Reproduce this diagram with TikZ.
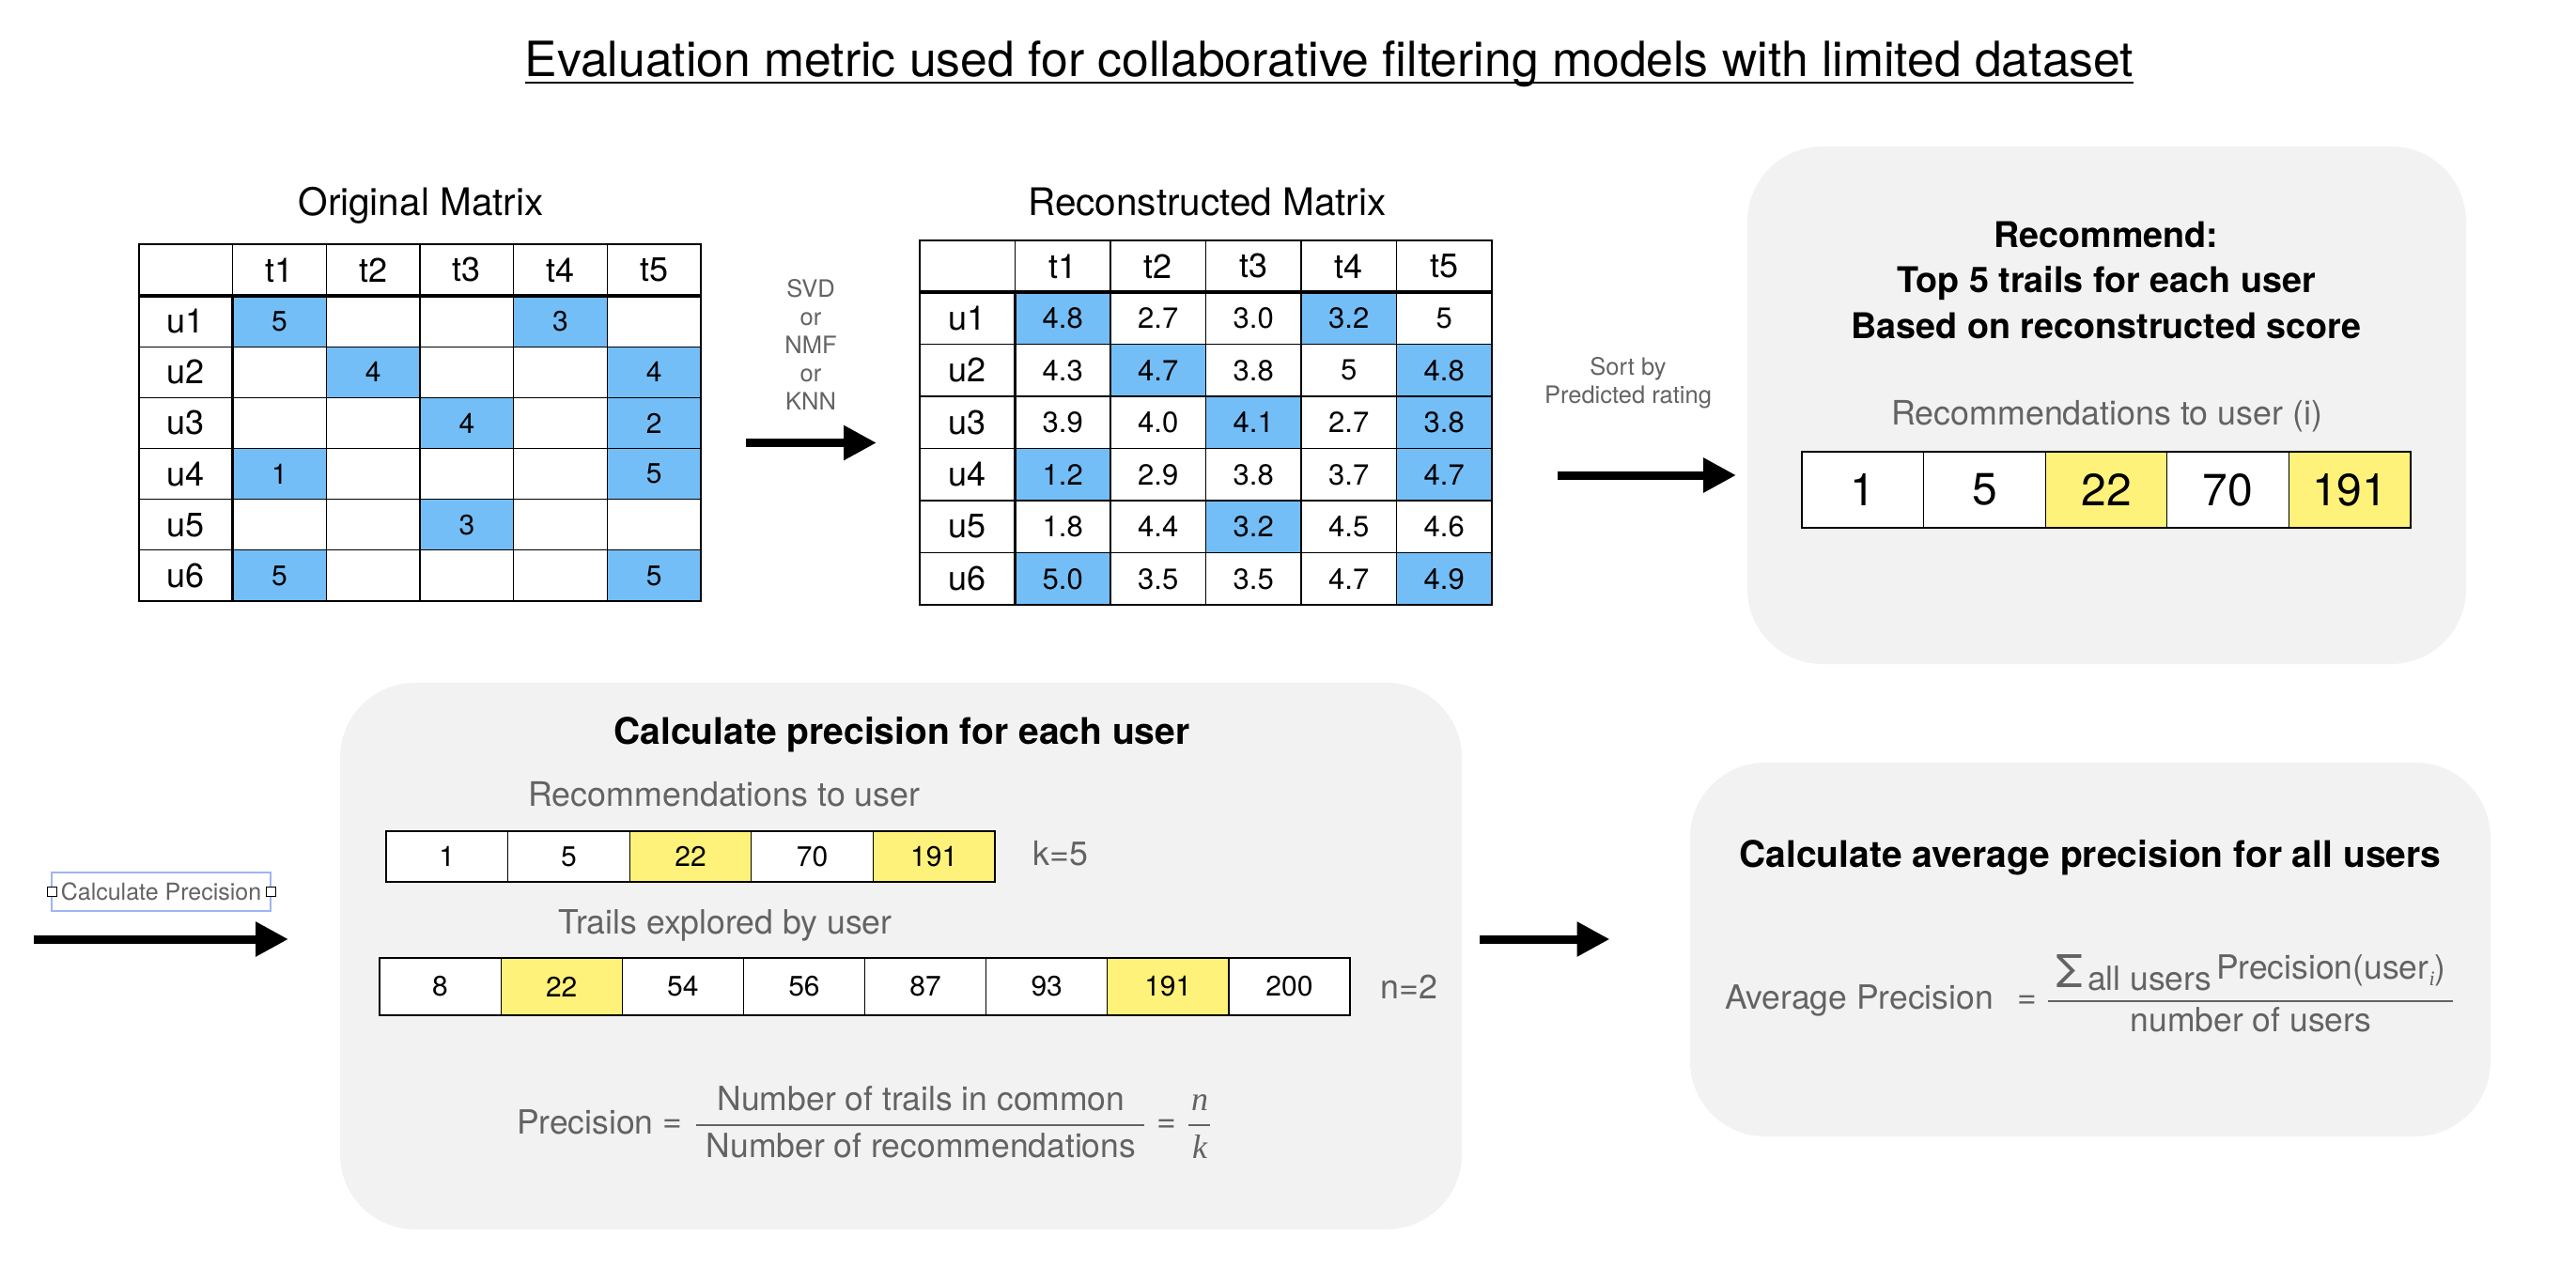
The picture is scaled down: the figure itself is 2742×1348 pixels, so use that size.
\documentclass[tikz,border=0pt]{standalone}
\usepackage{fontspec}
\setmainfont{TeX Gyre Heros}
\newfontfamily\serifit{Liberation Serif}
\usetikzlibrary{arrows.meta}
\definecolor{cblue}{RGB}{116,190,247}
\definecolor{cyel}{RGB}{254,242,122}
\definecolor{tgray}{RGB}{99,99,99}
\definecolor{pgray}{RGB}{242,242,242}
\definecolor{selblue}{RGB}{157,181,246}
\newcommand\fsz[2]{\fontsize{#1}{#2}\selectfont}
\begin{document}
\begin{tikzpicture}[x=1pt,y=-1pt,
  every node/.style={inner sep=0pt,outer sep=0pt},
  cellW/.style={draw=black,line width=1.2pt,fill=white},
  cellB/.style={draw=black,line width=1.2pt,fill=cblue},
  cellY/.style={draw=black,line width=1.2pt,fill=cyel},
  omat/.style={minimum width=99.67pt,minimum height=54.17pt,font=\fsz{30}{36}},
  ohead/.style={minimum width=99.67pt,minimum height=55pt,font=\fsz{36}{42}},
  olab/.style={minimum width=99.67pt,minimum height=54.17pt,font=\fsz{36}{42}},
  rmat/.style={minimum width=101.5pt,minimum height=55.5pt,font=\fsz{31}{36}},
  rhead/.style={minimum width=101.5pt,minimum height=55pt,font=\fsz{36}{42}},
  rlab/.style={minimum width=101.5pt,minimum height=55.5pt,font=\fsz{36}{42}},
  bigcell/.style={minimum width=129.6pt,minimum height=81pt,font=\fsz{48}{56}},
  smcell/.style={minimum width=129.6pt,minimum height=54pt,font=\fsz{30}{36}},
  trcell/.style={minimum width=129.1pt,minimum height=61pt,font=\fsz{30}{36}},
  panel/.style={fill=pgray,rounded corners=80pt},
  mtitle/.style={anchor=base,font=\fsz{40.5}{48}},
  btitle/.style={anchor=base,font=\bfseries\fsz{39}{46}},
  graytxt/.style={text=tgray,font=\fsz{35.8}{42}},
  smallgray/.style={anchor=base,text=tgray,font=\fsz{25.5}{30}},
  formula/.style={text=tgray,font=\fsz{35.5}{42}},
  fracbar/.style={draw=tgray,line width=2pt},
  fatarrow/.style={line width=9pt,-{Triangle[length=35pt,width=35pt]}},
  selbox/.style={draw=selblue,line width=1.4pt,minimum width=233pt,minimum height=41pt,text=tgray,font=\fsz{25}{30}},
  handle/.style={draw=black,line width=1pt,fill=white,minimum width=10pt,minimum height=10pt}
]
\useasboundingbox (0,0) rectangle (2742,1348);
\fill[white] (0,0) rectangle (2742,1348);

% ---------- title ----------
\node[anchor=base,font=\fsz{51.7}{60}] (title) at (1415,82) {Evaluation metric used for collaborative filtering models with limited dataset};
\draw[line width=2.7pt] ([yshift=-6pt]title.base west) -- ([yshift=-6pt]title.base east);

% ---------- panels ----------
\node[panel,minimum width=765pt,minimum height=551pt] (p1) at (2242.5,431.5) {};
\node[panel,minimum width=1194pt,minimum height=582pt] (p2) at (959,1018) {};
\node[panel,minimum width=852pt,minimum height=398pt] (p3) at (2225,1011) {};

% ---------- original matrix ----------
\node[mtitle] (otitle) at (448,230) {Original Matrix};
\node[cellW,ohead] (o0-0) at (197.8,287.5) {};
\foreach \c in {1,...,5} \node[cellW,ohead] (o0-\c) at ({148+99.67*(\c+0.5)},287.5) {t\c};
\foreach \r/\y in {1/342.1,2/396.3,3/450.4,4/504.6,5/558.8,6/612.9}
  \node[cellW,olab] (o\r-0) at (197.8,\y) {u\r};
\foreach \c/\v/\s in {1/5/cellB,2/{}/cellW,3/{}/cellW,4/3/cellB,5/{}/cellW}
  \node[\s,omat] (o1-\c) at ({148+99.67*(\c+0.5)},342.1) {\v};
\foreach \c/\v/\s in {1/{}/cellW,2/4/cellB,3/{}/cellW,4/{}/cellW,5/4/cellB}
  \node[\s,omat] (o2-\c) at ({148+99.67*(\c+0.5)},396.3) {\v};
\foreach \c/\v/\s in {1/{}/cellW,2/{}/cellW,3/4/cellB,4/{}/cellW,5/2/cellB}
  \node[\s,omat] (o3-\c) at ({148+99.67*(\c+0.5)},450.4) {\v};
\foreach \c/\v/\s in {1/1/cellB,2/{}/cellW,3/{}/cellW,4/{}/cellW,5/5/cellB}
  \node[\s,omat] (o4-\c) at ({148+99.67*(\c+0.5)},504.6) {\v};
\foreach \c/\v/\s in {1/{}/cellW,2/{}/cellW,3/3/cellB,4/{}/cellW,5/{}/cellW}
  \node[\s,omat] (o5-\c) at ({148+99.67*(\c+0.5)},558.8) {\v};
\foreach \c/\v/\s in {1/5/cellB,2/{}/cellW,3/{}/cellW,4/{}/cellW,5/5/cellB}
  \node[\s,omat] (o6-\c) at ({148+99.67*(\c+0.5)},612.9) {\v};
\draw[line width=3.5pt] (o0-0.south west) -- (o0-5.south east);
\draw[line width=3.5pt] (o1-0.north east) -- (o6-0.south east);

% ---------- reconstructed matrix ----------
\node[mtitle] (rtitle) at (1285,230) {Reconstructed Matrix};
\node[cellW,rhead] (m0-0) at (1029.75,283.5) {};
\foreach \c in {1,...,5} \node[cellW,rhead] (m0-\c) at ({979+101.5*(\c+0.5)},283.5) {t\c};
\foreach \r/\y in {1/338.75,2/394.25,3/449.75,4/505.25,5/560.75,6/616.25}
  \node[cellW,rlab] (m\r-0) at (1029.75,\y) {u\r};
\foreach \c/\v/\s in {1/4.8/cellB,2/2.7/cellW,3/3.0/cellW,4/3.2/cellB,5/5/cellW}
  \node[\s,rmat] (m1-\c) at ({979+101.5*(\c+0.5)},338.75) {\v};
\foreach \c/\v/\s in {1/4.3/cellW,2/4.7/cellB,3/3.8/cellW,4/5/cellW,5/4.8/cellB}
  \node[\s,rmat] (m2-\c) at ({979+101.5*(\c+0.5)},394.25) {\v};
\foreach \c/\v/\s in {1/3.9/cellW,2/4.0/cellW,3/4.1/cellB,4/2.7/cellW,5/3.8/cellB}
  \node[\s,rmat] (m3-\c) at ({979+101.5*(\c+0.5)},449.75) {\v};
\foreach \c/\v/\s in {1/1.2/cellB,2/2.9/cellW,3/3.8/cellW,4/3.7/cellW,5/4.7/cellB}
  \node[\s,rmat] (m4-\c) at ({979+101.5*(\c+0.5)},505.25) {\v};
\foreach \c/\v/\s in {1/1.8/cellW,2/4.4/cellW,3/3.2/cellB,4/4.5/cellW,5/4.6/cellW}
  \node[\s,rmat] (m5-\c) at ({979+101.5*(\c+0.5)},560.75) {\v};
\foreach \c/\v/\s in {1/5.0/cellB,2/3.5/cellW,3/3.5/cellW,4/4.7/cellW,5/4.9/cellB}
  \node[\s,rmat] (m6-\c) at ({979+101.5*(\c+0.5)},616.25) {\v};
\draw[line width=3.5pt] (m0-0.south west) -- (m0-5.south east);
\draw[line width=3.5pt] (m1-0.north east) -- (m6-0.south east);

% ---------- SVD arrow ----------
\node[smallgray] (svd1) at (863,316.7) {SVD};
\node[smallgray] (svd2) at (863,346.7) {or};
\node[smallgray] (svd3) at (863,376.7) {NMF};
\node[smallgray] (svd4) at (863,406.7) {or};
\node[smallgray] (svd5) at (863,436.7) {KNN};
\coordinate (a1s) at (794,471.5);
\coordinate (a1e) at (933,471.5);
\draw[fatarrow] (a1s) -- (a1e);

% ---------- sort arrow ----------
\node[smallgray] (sort1) at (1733,399.5) {Sort by};
\node[smallgray] (sort2) at (1733,429.3) {Predicted rating};
\coordinate (a2s) at (1658,506);
\coordinate (a2e) at (1848,506);
\draw[fatarrow] (a2s) -- (a2e);

% ---------- panel 1 ----------
\node[anchor=base,font=\bfseries\fsz{37.7}{46}] (rec1) at (2242,264) {Recommend:};
\node[anchor=base,font=\bfseries\fsz{37.7}{46}] (rec2) at (2242,312) {Top 5 trails for each user};
\node[anchor=base,font=\bfseries\fsz{37.7}{46}] (rec3) at (2242,360) {Based on reconstructed score};
\node[graytxt,anchor=base] (rtu) at (2242.7,452) {Recommendations to user (i)};
\foreach \i/\v/\s in {1/1/cellW,2/5/cellW,3/22/cellY,4/70/cellW,5/191/cellY}
  \node[\s,bigcell] (b\i) at ({1918+129.6*(\i-0.5)},521.5) {\v};

% ---------- calculate precision arrow ----------
\node[selbox] (cp) at (171.5,949.5) {Calculate Precision};
\node[handle] (cph1) at (cp.west) {};
\node[handle] (cph2) at (cp.east) {};
\coordinate (a3s) at (36,1000);
\coordinate (a3e) at (307,1000);
\draw[fatarrow] (a3s) -- (a3e);

% ---------- panel 2 ----------
\node[btitle] (p2t) at (960,792) {Calculate precision for each user};
\node[graytxt,anchor=base] (rtu2) at (771,858) {Recommendations to user};
\foreach \i/\v/\s in {1/1/cellW,2/5/cellW,3/22/cellY,4/70/cellW,5/191/cellY}
  \node[\s,smcell] (s\i) at ({411+129.6*(\i-0.5)},912) {\v};
\node[graytxt,anchor=base] (k5) at (1129,921.4) {k=5};
\node[graytxt,anchor=base,font=\fsz{35.6}{42}] (teu) at (772,994) {Trails explored by user};
\foreach \i/\v/\s in {1/8/cellW,2/22/cellY,3/54/cellW,4/56/cellW,5/87/cellW,6/93/cellW,7/191/cellY,8/200/cellW}
  \node[\s,trcell] (e\i) at ({404+129.125*(\i-0.5)},1050.5) {\v};
\node[graytxt,anchor=base] (n2) at (1500,1063.6) {n=2};

\node[formula,anchor=base west] (prec) at (550,1207) {Precision};
\node[formula] (eq1) at (716,1198.5) {=};
\coordinate (fb1l) at (741,1198);
\coordinate (fb1r) at (1218,1198);
\draw[fracbar] (fb1l) -- (fb1r);
\node[formula,anchor=base] (num1) at (980.5,1182) {Number of trails in common};
\node[formula,anchor=base] (den1) at (980.5,1232) {Number of recommendations};
\node[formula] (eq2) at (1242,1198.5) {=};
\coordinate (fb2l) at (1265,1198);
\coordinate (fb2r) at (1288,1198);
\draw[fracbar] (fb2l) -- (fb2r);
\node[formula,anchor=base,font=\serifit\itshape\fsz{36}{42}] (nn) at (1277,1182) {n};
\node[formula,anchor=base,font=\serifit\itshape\fsz{36}{42}] (kk) at (1277,1233) {k};

% ---------- arrow to panel 3 ----------
\coordinate (a4s) at (1575,1000);
\coordinate (a4e) at (1713.5,1000);
\draw[fatarrow] (a4s) -- (a4e);

% ---------- panel 3 ----------
\node[btitle] (p3t) at (2225,923) {Calculate average precision for all users};
\node[formula,anchor=base west] (avgp) at (1836,1074) {Average Precision};
\node[formula] (eq3) at (2157.5,1067) {=};
\coordinate (fb3l) at (2180,1066);
\coordinate (fb3r) at (2611,1066);
\draw[fracbar] (fb3l) -- (fb3r);
\node[formula,anchor=base west,font=\fsz{48}{52}] (sig) at (2188,1051) {Σ};
\node[formula,anchor=base west] (allu) at (2222,1054) {all users};
\node[formula,anchor=base west] (precu) at (2359,1042) {Precision(user\raisebox{-7pt}{\serifit\itshape\fsz{22}{24}i})};
\node[formula,anchor=base] (nusers) at (2396,1098) {number of users};
\end{tikzpicture}
\end{document}
